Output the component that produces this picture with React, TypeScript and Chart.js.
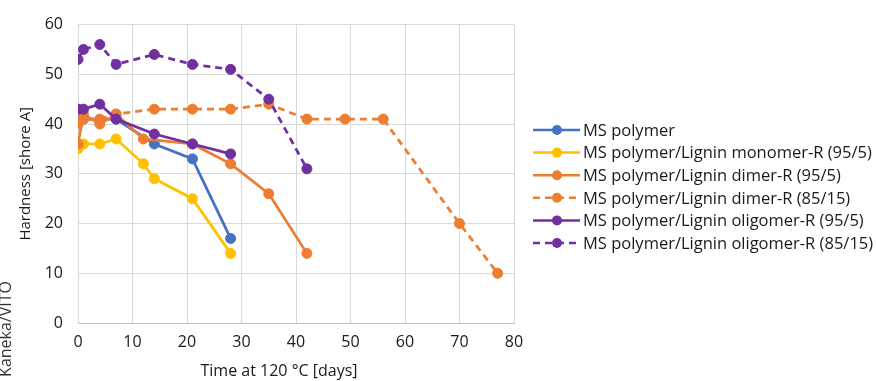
import React, { useEffect, useRef } from "react";
import { Chart, registerables } from "chart.js";

Chart.register(...registerables);

// ---- data ----
const seriesLabels = [
  "MS polymer",
  "MS polymer/Lignin monomer-R (95/5)",
  "MS polymer/Lignin dimer-R (95/5)",
  "MS polymer/Lignin dimer-R (85/15)",
  "MS polymer/Lignin oligomer-R (95/5)",
  "MS polymer/Lignin oligomer-R (85/15)",
];

const msDays = [0, 1, 7, 14, 21, 28];
const msValues = [42, 41, 41, 36, 33, 17];

const monomer95Days = [0, 1, 4, 7, 12, 14, 21, 28];
const monomer95Values = [35, 36, 36, 37, 32, 29, 25, 14];

const dimer95Days = [0, 1, 4, 7, 12, 21, 28, 35, 42];
const dimer95Values = [36, 42, 40, 42, 37, 36, 32, 26, 14];

const dimer85Days = [0, 1, 4, 7, 14, 21, 28, 35, 42, 49, 56, 70, 77];
const dimer85Values = [40, 41, 41, 42, 43, 43, 43, 44, 41, 41, 41, 20, 10];

const oligomer95Days = [0, 1, 4, 7, 14, 21, 28];
const oligomer95Values = [43, 43, 44, 41, 38, 36, 34];

const oligomer85Days = [0, 1, 4, 7, 14, 21, 28, 35, 42];
const oligomer85Values = [53, 55, 56, 52, 54, 52, 51, 45, 31];

const xTitle = "Time at 120 °C [days]";
const yTitle = "Hardness [shore A]";
const watermark = "© Kaneka/VITO";

const seriesColors = ["#4472C4", "#FFC000", "#ED7D31", "#ED7D31", "#7030A0", "#7030A0"];
const seriesDashed = [false, false, false, true, false, true];

const FONT = "'Open Sans', 'Noto Sans', sans-serif";
const TEXT = "#1a1a1a";

function pts(days: number[], vals: number[]) {
  return days.map((d, i) => ({ x: d, y: vals[i] }));
}

const allSeries = [
  pts(msDays, msValues),
  pts(monomer95Days, monomer95Values),
  pts(dimer95Days, dimer95Values),
  pts(dimer85Days, dimer85Values),
  pts(oligomer95Days, oligomer95Values),
  pts(oligomer85Days, oligomer85Values),
];

const sideLegend = {
  id: "sideLegend",
  afterDraw(chart: any) {
    const ctx = chart.ctx as CanvasRenderingContext2D;
    ctx.save();
    const top = 130;
    const step = 22.6;
    chart.data.datasets.forEach((ds: any, i: number) => {
      const y = top + i * step;
      ctx.strokeStyle = ds.borderColor;
      ctx.lineWidth = 2.5;
      ctx.setLineDash(ds.borderDash || []);
      ctx.beginPath();
      ctx.moveTo(533, y);
      ctx.lineTo(580, y);
      ctx.stroke();
      ctx.setLineDash([]);
      ctx.fillStyle = ds.borderColor;
      ctx.beginPath();
      ctx.arc(557, y, 5, 0, Math.PI * 2);
      ctx.fill();
      ctx.fillStyle = TEXT;
      ctx.font = `16.5px ${FONT}`;
      ctx.textBaseline = "middle";
      ctx.textAlign = "left";
      ctx.fillText(ds.label, 583, y + 1);
    });
    // x-axis title (offset left of plot centre as in the original)
    ctx.fillStyle = TEXT;
    ctx.font = `16px ${FONT}`;
    ctx.textAlign = "center";
    ctx.textBaseline = "middle";
    ctx.fillText(xTitle, 279, 371);
    // watermark
    ctx.translate(11, 281);
    ctx.rotate(-Math.PI / 2);
    ctx.fillStyle = "#333";
    ctx.font = `16px ${FONT}`;
    ctx.textAlign = "right";
    ctx.textBaseline = "alphabetic";
    ctx.fillText(watermark, 0, 0);
    ctx.restore();
  },
};

export default function App() {
  const ref = useRef<HTMLCanvasElement | null>(null);
  useEffect(() => {
    document.body.style.margin = "0";
    if (!ref.current) return;
    const n = allSeries.length;
    const chart = new Chart(ref.current, {
      type: "line",
      data: {
        datasets: allSeries.map((data, i) => ({
          label: seriesLabels[i],
          data,
          borderColor: seriesColors[i],
          backgroundColor: seriesColors[i],
          pointBackgroundColor: seriesColors[i],
          pointBorderColor: seriesColors[i],
          borderWidth: 2.75,
          pointRadius: 5,
          pointBorderWidth: 1,
          borderDash: seriesDashed[i] ? [7, 5] : [],
          fill: false,
          tension: 0,
          order: n - i,
        })),
      },
      options: {
        responsive: false,
        animation: false,
        layout: { padding: { top: 15, right: 363, left: 0, bottom: 0 } },
        plugins: {
          legend: { display: false },
          tooltip: { enabled: false },
        },
        scales: {
          x: {
            type: "linear",
            min: 0,
            max: 80,
            ticks: { stepSize: 10, padding: 10, color: TEXT, font: { family: FONT, size: 16 } },
            grid: { color: "#d9d9d9", drawTicks: false },
            border: { color: "#bfbfbf" },
            title: { display: false, text: xTitle },
            afterFit(scale: any) {
              scale.height = 58;
            },
          },
          y: {
            type: "linear",
            min: 0,
            max: 60,
            ticks: { stepSize: 10, padding: 15, color: TEXT, font: { family: FONT, size: 16 } },
            grid: { color: "#d9d9d9", drawTicks: false },
            border: { color: "#d9d9d9" },
            title: {
              display: true,
              text: yTitle,
              color: TEXT,
              font: { family: FONT, size: 15 },
              padding: { top: 17, bottom: 0 },
            },
            afterFit(scale: any) {
              scale.width = 78;
            },
          },
        },
      },
      plugins: [sideLegend],
    });
    return () => chart.destroy();
  }, []);
  return (
    <div style={{ width: 877, height: 381, position: "relative", background: "#fff" }}>
      <canvas ref={ref} width={877} height={381} />
    </div>
  );
}
